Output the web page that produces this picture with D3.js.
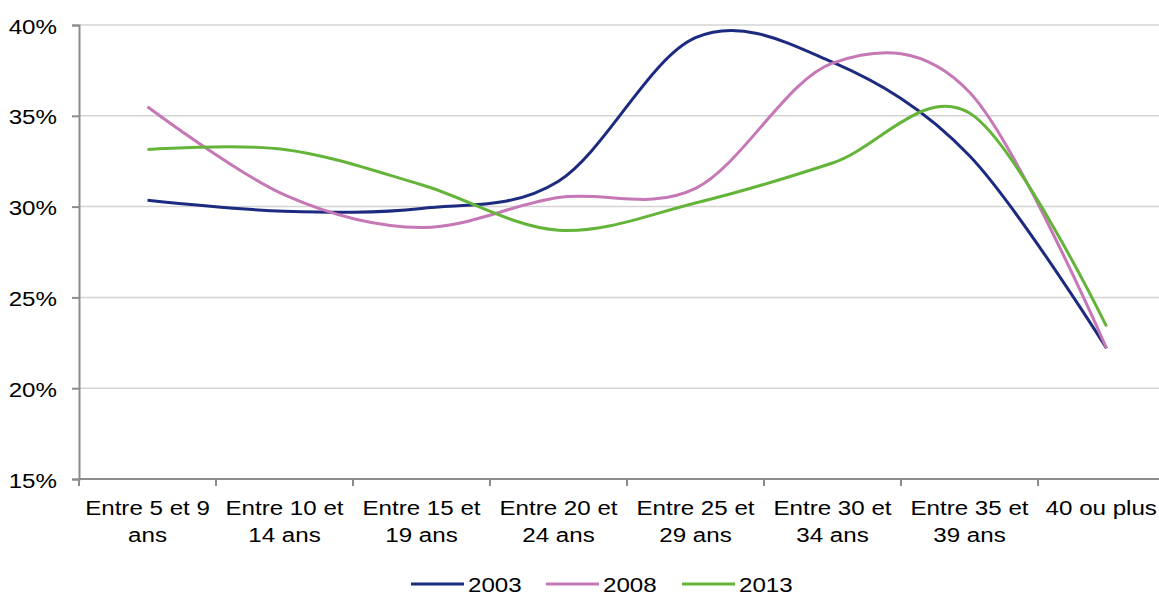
<!DOCTYPE html>
<html>
<head>
<meta charset="utf-8">
<script src="https://cdn.jsdelivr.net/npm/d3@7"></script>
<style>
  html, body { margin: 0; padding: 0; background: #fff; }
  svg { display: block; font-family: "Liberation Sans", Arial, sans-serif; }
</style>
</head>
<body>
<svg id="chart" width="1159" height="596"></svg>
<script>
// Age groups (two-line labels)
const categories = [
  ["Entre 5 et 9", "ans"],
  ["Entre 10 et", "14 ans"],
  ["Entre 15 et", "19 ans"],
  ["Entre 20 et", "24 ans"],
  ["Entre 25 et", "29 ans"],
  ["Entre 30 et", "34 ans"],
  ["Entre 35 et", "39 ans"],
  ["40 ou plus"]
];

// Share per age group, in percent
const values2003 = [30.35, 29.75, 29.9, 31.4, 39.3, 37.95, 32.8, 22.2];
const values2008 = [35.5, 30.65, 28.85, 30.5, 31.0, 37.9, 36.3, 22.2];
const values2013 = [33.15, 33.15, 31.2, 28.7, 30.2, 32.4, 35.15, 23.4];

const seriesNames = ["2003", "2008", "2013"];
const seriesColors = ["#1c2a7f", "#c577b6", "#64b43a"];
const yTicks = [15, 20, 25, 30, 35, 40];

const series = [values2003, values2008, values2013].map((v, i) => ({
  name: seriesNames[i], color: seriesColors[i], values: v
}));

const svg = d3.select("#chart");
const width = 1159;
const plotLeft = 79, plotRight = 1175, plotTop = 25, plotBottom = 479;
const fontSize = 21, stretch = 1.15;   // slightly wide lettering

const x = d3.scaleBand()
  .domain(d3.range(categories.length))
  .range([plotLeft, plotRight])
  .paddingInner(0).paddingOuter(0);

const y = d3.scaleLinear().domain([15, 40]).range([plotBottom, plotTop]);

// Horizontal gridlines
svg.append("g")
  .selectAll("line")
  .data(yTicks.filter(t => t !== 15))
  .join("line")
  .attr("x1", plotLeft).attr("x2", plotRight)
  .attr("y1", d => y(d)).attr("y2", d => y(d))
  .attr("stroke", "#d4d4d4").attr("stroke-width", 1.5);

// Y axis
const yAxis = svg.append("g")
  .attr("transform", `translate(${plotLeft},0)`)
  .call(d3.axisLeft(y).tickValues(yTicks).tickSize(7).tickPadding(0)
    .tickFormat(d => d + "%"));
yAxis.select(".domain").attr("stroke", "#8c8c8c").attr("stroke-width", 2);
yAxis.selectAll(".tick line").attr("stroke", "#8c8c8c").attr("stroke-width", 2);
yAxis.selectAll(".tick text")
  .attr("x", 0).attr("dy", null).attr("y", 8)
  .attr("transform", `translate(-22,0) scale(${stretch},1)`)
  .attr("fill", "#000").attr("font-size", fontSize)
  .attr("font-family", "Liberation Sans, Arial, sans-serif");

// X axis: ticks at band boundaries
const xAxis = svg.append("g");
xAxis.append("line")
  .attr("x1", plotLeft).attr("x2", plotRight)
  .attr("y1", plotBottom).attr("y2", plotBottom)
  .attr("stroke", "#8c8c8c").attr("stroke-width", 2);
xAxis.selectAll("line.tick")
  .data(d3.range(categories.length + 1))
  .join("line")
  .attr("class", "tick")
  .attr("x1", i => plotLeft + i * x.bandwidth())
  .attr("x2", i => plotLeft + i * x.bandwidth())
  .attr("y1", plotBottom).attr("y2", plotBottom + 7)
  .attr("stroke", "#8c8c8c").attr("stroke-width", 2);

const labels = xAxis.selectAll("text.cat")
  .data(categories)
  .join("text")
  .attr("class", "cat")
  .attr("text-anchor", "middle")
  .attr("font-size", fontSize)
  .attr("fill", "#000");
labels.selectAll("tspan")
  .data(d => d)
  .join("tspan")
  .attr("x", 0)
  .attr("dy", (d, i) => i === 0 ? 0 : 27)
  .text(d => d);
// Centre each label under its band, keeping the last one inside the page
labels.attr("transform", function(d, i) {
  const half = this.getBBox().width * stretch / 2;
  const cx = Math.min(x(i) + x.bandwidth() / 2, width - 2 - half);
  return `translate(${cx},515) scale(${stretch},1)`;
});

// Smoothed lines
const line = d3.line()
  .x((d, i) => x(i) + x.bandwidth() / 2)
  .y(d => y(d))
  .curve(d3.curveCardinal.tension(0));

svg.append("g")
  .selectAll("path")
  .data(series)
  .join("path")
  .attr("d", d => line(d.values))
  .attr("fill", "none")
  .attr("stroke", d => d.color)
  .attr("stroke-width", 3)
  .attr("stroke-linejoin", "round");

// Legend
const legend = svg.append("g");
const legendX = [411, 546, 682];
series.forEach((s, i) => {
  const g = legend.append("g").attr("transform", `translate(${legendX[i]},584)`);
  g.append("line").attr("x1", 0).attr("x2", 53).attr("y1", 0).attr("y2", 0)
    .attr("stroke", s.color).attr("stroke-width", 3);
  g.append("text")
    .attr("transform", `translate(57,8) scale(${stretch},1)`)
    .attr("font-size", fontSize).attr("fill", "#000").text(s.name);
});
</script>
</body>
</html>
